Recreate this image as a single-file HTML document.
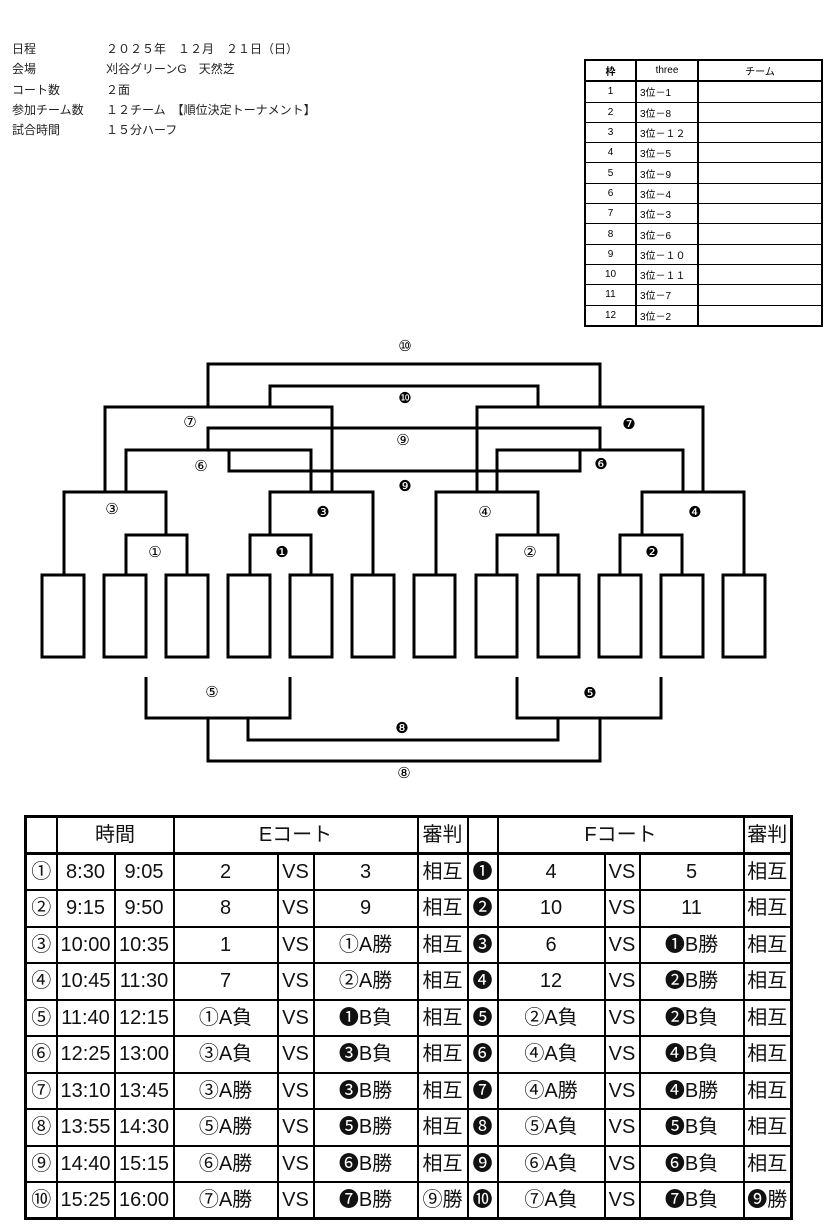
<!DOCTYPE html>
<html><head><meta charset="utf-8">
<style>
body{margin:0;width:834px;height:1230px;background:#fff;position:relative;overflow:hidden;font-family:"Liberation Sans","Noto Sans CJK JP",sans-serif;}
.info{position:absolute;left:12px;top:39px;font-size:12px;line-height:20.3px;color:#222;}
.info div{white-space:pre;}
.info span{display:inline-block;width:94px;}
table{border-collapse:collapse;position:absolute;table-layout:fixed;}
#t1{left:584px;top:59px;width:237px;font-size:10px;}
#t1 td{border:1px solid #000;height:19.3px;padding:0 0 0 3px;}
#t1 tr:first-child td{border-bottom:2px solid #000;text-align:center;padding:0}
#t1 td:first-child{text-align:center;padding:0;border-right:2px solid #000}
#t1 td:nth-child(2){border-right:2px solid #000}
#t1{border:2px solid #000}
#t2{left:24px;top:815px;width:766px;border:3px solid #000;font-family:"Liberation Sans Narrow","Liberation Sans","Noto Sans CJK JP",sans-serif;font-size:20px;}
#t2 tr{height:36.5px}
#t2 td{border:2px solid #000;text-align:center;vertical-align:middle;padding:0;line-height:22px;white-space:nowrap;overflow:hidden;color:#111}
#t2 tr.h{height:37px}
#t2 tr.h td{border-bottom:3px solid #000}
</style></head><body>
<div class="info">
<div><span>日程</span>２０２５年　１２月　２１日（日）</div>
<div><span>会場</span>刈谷グリーンG　天然芝</div>
<div><span>コート数</span>２面</div>
<div><span>参加チーム数</span>１２チーム　【順位決定トーナメント】</div>
<div><span>試合時間</span>１５分ハーフ</div>
</div>
<table id="t1">
<colgroup><col style="width:51px"><col style="width:62px"><col style="width:124px"></colgroup>
<tr><td><b>枠</b></td><td>three</td><td>チーム</td></tr>
<tr><td>1</td><td>3位－1</td><td></td></tr>
<tr><td>2</td><td>3位－8</td><td></td></tr>
<tr><td>3</td><td>3位－１２</td><td></td></tr>
<tr><td>4</td><td>3位－5</td><td></td></tr>
<tr><td>5</td><td>3位－9</td><td></td></tr>
<tr><td>6</td><td>3位－4</td><td></td></tr>
<tr><td>7</td><td>3位－3</td><td></td></tr>
<tr><td>8</td><td>3位－6</td><td></td></tr>
<tr><td>9</td><td>3位－１０</td><td></td></tr>
<tr><td>10</td><td>3位－１１</td><td></td></tr>
<tr><td>11</td><td>3位－7</td><td></td></tr>
<tr><td>12</td><td>3位－2</td><td></td></tr>
</table>
<svg style="position:absolute;left:0;top:0" width="834" height="800" font-family="Liberation Sans,DejaVu Sans,sans-serif">
<g fill="#fff" stroke="#000" stroke-width="3">
<rect x="42" y="575" width="42" height="82"/><rect x="104" y="575" width="42" height="82"/><rect x="166" y="575" width="42" height="82"/>
<rect x="228" y="575" width="42" height="82"/><rect x="290" y="575" width="42" height="82"/><rect x="352" y="575" width="42" height="82"/>
<rect x="414" y="575" width="41" height="82"/><rect x="476" y="575" width="41" height="82"/><rect x="538" y="575" width="41" height="82"/>
<rect x="599" y="575" width="42" height="82"/><rect x="661" y="575" width="42" height="82"/><rect x="723" y="575" width="42" height="82"/>
</g>
<g fill="none" stroke="#000" stroke-width="3">
<polyline points="126,575 126,535 187,535 187,575"/>
<polyline points="250,575 250,535 311,535 311,575"/>
<polyline points="497,575 497,535 558,535 558,575"/>
<polyline points="620,575 620,535 682,535 682,575"/>
<polyline points="64,575 64,492 166,492 166,535"/>
<polyline points="270,535 270,492 373,492 373,575"/>
<polyline points="436,575 436,492 538,492 538,535"/>
<polyline points="642,535 642,492 744,492 744,575"/>
<polyline points="126,492 126,450 311,450 311,492"/>
<polyline points="497,492 497,450 683,450 683,492"/>
<polyline points="105,492 105,407 332,407 332,492"/>
<polyline points="477,492 477,407 703,407 703,492"/>
<polyline points="208,450 208,428 600,428 600,450"/>
<polyline points="229,450 229,471 580,471 580,450"/>
<polyline points="208,407 208,364 600,364 600,407"/>
<polyline points="270,407 270,386 538,386 538,407"/>
<polyline points="146,677 146,718 290,718 290,677"/>
<polyline points="517,677 517,718 661,718 661,677"/>
<polyline points="248,718 248,740 558,740 558,718"/>
<polyline points="208,718 208,761 600,761 600,718"/>
</g>
<g font-size="15" text-anchor="middle" fill="#000">
<text x="405" y="351">⑩</text><text x="405" y="403">❿</text>
<text x="190" y="427">⑦</text><text x="629" y="429">❼</text>
<text x="403" y="445">⑨</text><text x="201" y="471">⑥</text><text x="601" y="469">❻</text>
<text x="405" y="491">❾</text>
<text x="112" y="514">③</text><text x="323" y="517">❸</text><text x="485" y="517">④</text><text x="695" y="517">❹</text>
<text x="155" y="557">①</text><text x="282" y="557">❶</text><text x="530" y="557">②</text><text x="652" y="557">❷</text>
<text x="212" y="697">⑤</text><text x="590" y="698">❺</text><text x="402" y="733">❽</text><text x="404" y="778">⑧</text>
</g>
</svg>
<table id="t2">
<colgroup><col style="width:31px"><col style="width:58px"><col style="width:59px"><col style="width:104px"><col style="width:36px"><col style="width:104px"><col style="width:50px"><col style="width:30px"><col style="width:107px"><col style="width:35px"><col style="width:104px"><col style="width:48px"></colgroup>
<tr class="h"><td></td><td colspan="2">時間</td><td colspan="3">Eコート</td><td>審判</td><td></td><td colspan="3">Fコート</td><td>審判</td></tr>
<tr><td>①</td><td>8:30</td><td>9:05</td><td>2</td><td>VS</td><td>3</td><td>相互</td><td>❶</td><td>4</td><td>VS</td><td>5</td><td>相互</td></tr>
<tr><td>②</td><td>9:15</td><td>9:50</td><td>8</td><td>VS</td><td>9</td><td>相互</td><td>❷</td><td>10</td><td>VS</td><td>11</td><td>相互</td></tr>
<tr><td>③</td><td>10:00</td><td>10:35</td><td>1</td><td>VS</td><td>①A勝</td><td>相互</td><td>❸</td><td>6</td><td>VS</td><td>❶B勝</td><td>相互</td></tr>
<tr><td>④</td><td>10:45</td><td>11:30</td><td>7</td><td>VS</td><td>②A勝</td><td>相互</td><td>❹</td><td>12</td><td>VS</td><td>❷B勝</td><td>相互</td></tr>
<tr><td>⑤</td><td>11:40</td><td>12:15</td><td>①A負</td><td>VS</td><td>❶B負</td><td>相互</td><td>❺</td><td>②A負</td><td>VS</td><td>❷B負</td><td>相互</td></tr>
<tr><td>⑥</td><td>12:25</td><td>13:00</td><td>③A負</td><td>VS</td><td>❸B負</td><td>相互</td><td>❻</td><td>④A負</td><td>VS</td><td>❹B負</td><td>相互</td></tr>
<tr><td>⑦</td><td>13:10</td><td>13:45</td><td>③A勝</td><td>VS</td><td>❸B勝</td><td>相互</td><td>❼</td><td>④A勝</td><td>VS</td><td>❹B勝</td><td>相互</td></tr>
<tr><td>⑧</td><td>13:55</td><td>14:30</td><td>⑤A勝</td><td>VS</td><td>❺B勝</td><td>相互</td><td>❽</td><td>⑤A負</td><td>VS</td><td>❺B負</td><td>相互</td></tr>
<tr><td>⑨</td><td>14:40</td><td>15:15</td><td>⑥A勝</td><td>VS</td><td>❻B勝</td><td>相互</td><td>❾</td><td>⑥A負</td><td>VS</td><td>❻B負</td><td>相互</td></tr>
<tr><td>⑩</td><td>15:25</td><td>16:00</td><td>⑦A勝</td><td>VS</td><td>❼B勝</td><td>⑨勝</td><td>❿</td><td>⑦A負</td><td>VS</td><td>❼B負</td><td>❾勝</td></tr>
</table>
</body></html>
